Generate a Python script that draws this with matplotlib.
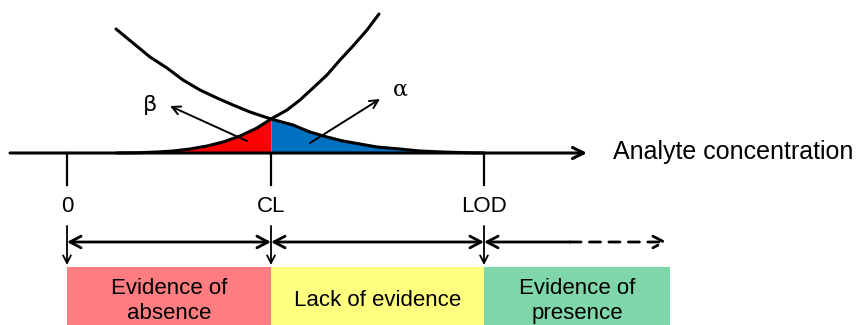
import matplotlib
matplotlib.use("Agg")
import matplotlib.pyplot as plt

plt.rcParams["font.family"] = ["Liberation Sans", "DejaVu Sans"]

# Landmarks on the concentration axis (diagram units)
landmark_names = ["0", "CL", "LOD"]
landmark_pos = [67, 271, 484]
axis_end = 587

# Blank-sample response distribution (right tail)
blank_x = [116, 133, 150, 167, 183, 200, 217, 233, 250, 271, 293, 310, 327,
           343, 360, 377, 400, 420, 443, 467, 484]
blank_h = [124, 110, 96, 85, 73, 63, 55, 48, 41, 34, 28, 21, 16,
           12, 9, 6, 4, 2, 1, 0.3, 0]

# Response distribution of a sample at the LOD (left tail)
lod_x = [117, 140, 157, 173, 190, 207, 223, 240, 257, 271, 287, 300, 313,
         327, 340, 353, 367, 379]
lod_h = [0, 0.3, 1, 2, 4, 7, 11, 17, 25, 34, 43, 53, 65,
         78, 93, 107, 123, 139]

# Decision regions below the axis
region_labels = ["Evidence of\nabsence", "Lack of evidence", "Evidence of\npresence"]
region_edges = [67, 271, 484, 670]
region_colors = ["#FF7C80", "#FFFF80", "#7FD6A8"]

fig = plt.figure(figsize=(8.59, 3.25), dpi=100)
ax = fig.add_axes([0, 0, 1, 1])
ax.set_xlim(0, 859)
ax.set_ylim(-172, 153)
ax.axis("off")

# beta (red) and alpha (blue) tail areas split at CL
cl = landmark_pos[1]
beta_x = [x for x in lod_x if x <= cl]
beta_h = [h for x, h in zip(lod_x, lod_h) if x <= cl]
ax.fill_between(beta_x, 0, beta_h, color="#FF0000", lw=0, zorder=1)
alpha_x = [x for x in blank_x if x >= cl]
alpha_h = [h for x, h in zip(blank_x, blank_h) if x >= cl]
ax.fill_between(alpha_x, 0, alpha_h, color="#0070C0", lw=0, zorder=1)

ax.plot(blank_x, blank_h, color="black", lw=2.2, solid_capstyle="round", zorder=3)
ax.plot(lod_x, lod_h, color="black", lw=2.2, solid_capstyle="round", zorder=3)

# Concentration axis
ax.annotate("", xy=(axis_end, 0), xytext=(10, 0),
            arrowprops=dict(arrowstyle="->,head_length=0.8,head_width=0.4",
                            lw=2.2, color="black", shrinkA=0, shrinkB=0), zorder=4)
ax.text(613, 1, "Analyte concentration", fontsize=18, va="center", ha="left")

# Tick marks and labels
for name, x in zip(landmark_names, landmark_pos):
    ax.plot([x, x], [0, -32], color="black", lw=1.6, zorder=2)
    ax.text(x, -54, name, fontsize=16, ha="center", va="center")
    ax.annotate("", xy=(x, -112), xytext=(x, -73),
                arrowprops=dict(arrowstyle="->,head_length=0.55,head_width=0.28",
                                lw=1.3, color="black", shrinkA=0, shrinkB=0))

# Range arrows between landmarks
y_rng = -89
arrow_kw = dict(lw=2.0, color="black", shrinkA=0, shrinkB=0)
head = "head_length=0.8,head_width=0.42"
for x0, x1 in zip(landmark_pos[:-1], landmark_pos[1:]):
    ax.annotate("", xy=(x1, y_rng), xytext=(x0, y_rng),
                arrowprops=dict(arrowstyle="<->," + head, **arrow_kw))
ax.annotate("", xy=(570, y_rng), xytext=(landmark_pos[2], y_rng),
            arrowprops=dict(arrowstyle="<-," + head, **arrow_kw))
ax.annotate("", xy=(667, y_rng), xytext=(570, y_rng),
            arrowprops=dict(arrowstyle="->," + head,
                            linestyle=(0, (4, 3)), **arrow_kw))

# Colored decision boxes
lefts = region_edges[:-1]
widths = [b - a for a, b in zip(region_edges[:-1], region_edges[1:])]
ax.bar(lefts, [-58] * 3, width=widths, bottom=-114, align="edge",
       color=region_colors, lw=0)
for lab, a, w in zip(region_labels, lefts, widths):
    ax.text(a + w / 2, -148, lab, fontsize=16, ha="center", va="center",
            linespacing=1.3)

# alpha / beta annotations
ax.annotate("", xy=(170, 47), xytext=(247, 12),
            arrowprops=dict(arrowstyle="->,head_length=0.6,head_width=0.3",
                            lw=1.4, color="black", shrinkA=0, shrinkB=0), zorder=5)
ax.annotate("", xy=(380, 54), xytext=(310, 10),
            arrowprops=dict(arrowstyle="->,head_length=0.6,head_width=0.3",
                            lw=1.4, color="black", shrinkA=0, shrinkB=0), zorder=5)
ax.text(150, 48, "β", fontsize=16, ha="center", va="center", family="DejaVu Sans")
ax.text(400, 63, "α", fontsize=16, ha="center", va="center", family="DejaVu Serif")

fig.savefig("out.png", dpi=100)
